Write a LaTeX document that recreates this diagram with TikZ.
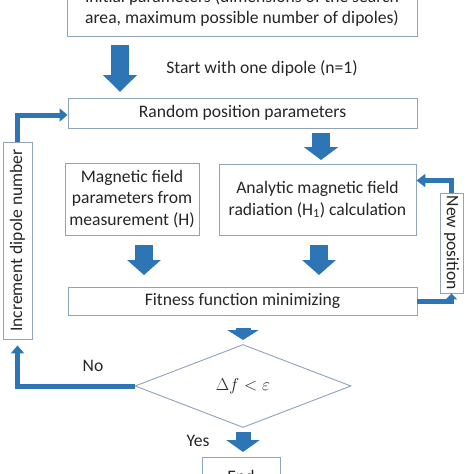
\documentclass[tikz,border=0pt]{standalone}
\usepackage{fontspec}
\setmainfont{Carlito}
\usetikzlibrary{arrows.meta,shapes.geometric,calc}
\definecolor{arrblue}{HTML}{2E75B6}
\definecolor{boxline}{HTML}{8FA3BC}
\definecolor{txt}{HTML}{262626}
\begin{document}
\begin{tikzpicture}[x=1pt,y=-1pt,
  every node/.style={text=txt,font=\fontsize{17.6}{21.5}\selectfont,inner sep=0pt},
  box/.style={draw=boxline,line width=0.9pt,fill=white,align=center},
  blk/.style n args={3}{draw=arrblue,line width=#1,-{Triangle[length=#2,width=#3]}},
  fb/.style={draw=arrblue,line width=5pt,-{Triangle[length=8pt,width=13pt]}}]
\useasboundingbox (0,0) rectangle (474,474);
\clip (0,0) rectangle (474,474);
% boxes
\node[box,minimum width=350pt,minimum height=56pt] (init) at (242,8)
  {Initial parameters (dimensions of the search\\area, maximum possible number of dipoles)};
\node[box,minimum width=349pt,minimum height=30pt] (rand) at (242.5,113) {Random position parameters};
\node[box,minimum width=134pt,minimum height=72pt] (mag) at (132,199)
  {Magnetic field\\parameters from\\measurement (H)};
\node[box,minimum width=197pt,minimum height=71pt] (ana) at (317.5,199.5)
  {Analytic magnetic field\\radiation (H\textsubscript{1}) calculation};
\node[box,minimum width=349pt,minimum height=28pt] (fit) at (242.5,301) {Fitness function minimizing};
\node[box,shape=diamond,minimum width=216pt,minimum height=83pt] (dia) at (243,386) {$\Delta f < \varepsilon$};
\node[box,minimum width=78pt,minimum height=38pt] (end) at (241,476) {End};
\node[box,rotate=90,minimum width=197pt,minimum height=29pt] (inc) at (17.5,240.5) {Increment dipole number};
\node[box,rotate=-90,minimum width=100pt,minimum height=23pt] (np) at (451.5,243) {New position};
% labels
\node (start) at (262,68) {Start with one dipole (n=1)};
\node (no) at (93,366) {No};
\node (yes) at (198,441) {Yes};
% block arrows
\coordinate (a1s) at (120,45);  \coordinate (a1e) at (120,92);
\coordinate (a2s) at (321,133); \coordinate (a2e) at (321,160);
\coordinate (a3s) at (144,245); \coordinate (a3e) at (144,275);
\coordinate (a4s) at (319,245); \coordinate (a4e) at (319,275);
\coordinate (a5s) at (243,328); \coordinate (a5e) at (243,340);
\coordinate (a6s) at (243,432); \coordinate (a6e) at (243,452);
\draw[blk={18pt}{17pt}{33pt}] (a1s) -- (a1e);
\draw[blk={18pt}{13pt}{34pt}] (a2s) -- (a2e);
\draw[blk={18pt}{15pt}{33pt}] (a3s) -- (a3e);
\draw[blk={18pt}{15pt}{33pt}] (a4s) -- (a4e);
\draw[blk={15pt}{10pt}{31pt}] (a5s) -- (a5e);
\draw[blk={15pt}{12pt}{33pt}] (a6s) -- (a6e);
% feedback connectors
\coordinate (randIn) at ($(rand.west)+(0,2)$);
\draw[fb] (inc.east) |- (randIn);
\draw[fb,shorten >=6pt] (dia.west) -| (inc.west);
\draw[fb,-{Triangle[length=6pt,width=11pt]}] (fit.east) -| (np.east);
\coordinate (anaIn) at ($(ana.north east)+(0,17)$);
\draw[fb,-{Triangle[length=9pt,width=13pt]}] (np.west) |- (anaIn);
\end{tikzpicture}
\end{document}
